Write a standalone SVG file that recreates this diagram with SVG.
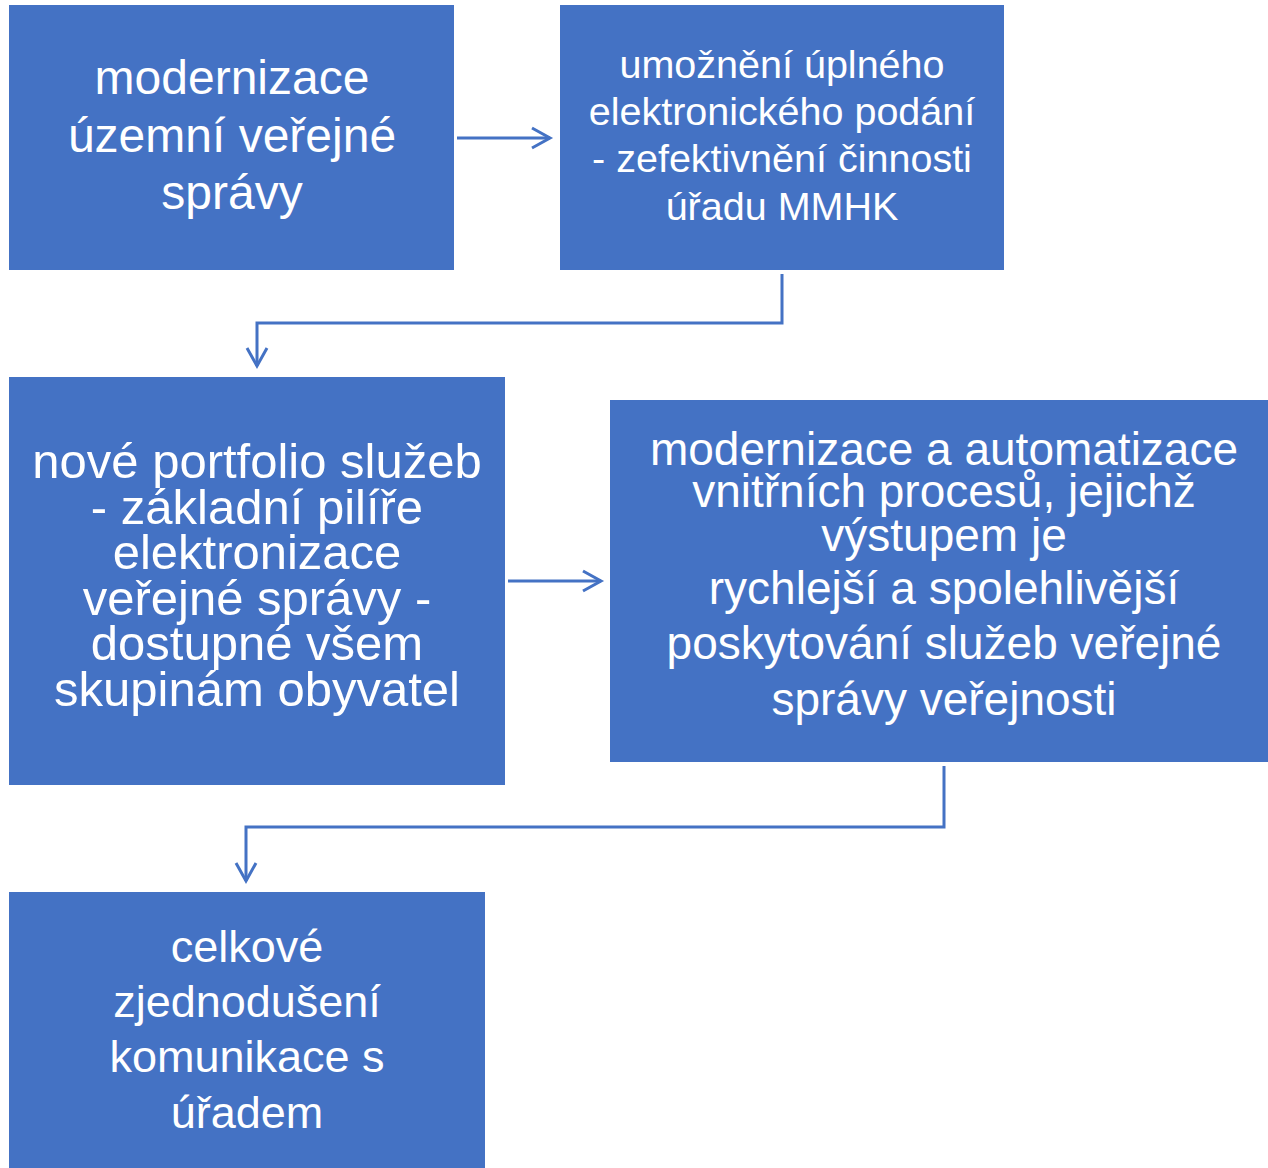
<svg xmlns="http://www.w3.org/2000/svg" width="1268" height="1168" viewBox="0 0 1268 1168">
<style>
.box{fill:#4472C4}
.t{font-family:"Liberation Sans",Arial,sans-serif;fill:#FFFFFF;text-anchor:middle}
.c{fill:none;stroke:#4472C4;stroke-width:3}
</style>
<defs>
<marker id="ah" markerWidth="24" markerHeight="24" refX="20" refY="12" orient="auto" markerUnits="userSpaceOnUse">
<path d="M2,2 L20,12 L2,22" fill="none" stroke="#4472C4" stroke-width="3"/>
</marker>
</defs>
<rect width="1268" height="1168" fill="#FFFFFF"/>
<g id="n1">
<rect class="box" x="9" y="5" width="445" height="265"/>
<text class="t" font-size="48"><tspan x="232" y="94">modernizace</tspan><tspan x="232" y="152">územní veřejné</tspan><tspan x="232" y="209">správy</tspan></text>
</g>
<g id="n2">
<rect class="box" x="560" y="5" width="444" height="265"/>
<text class="t" font-size="39.5"><tspan x="782" y="78">umožnění úplného</tspan><tspan x="782" y="125">elektronického podání</tspan><tspan x="782" y="172">- zefektivnění činnosti</tspan><tspan x="782" y="220">úřadu MMHK</tspan></text>
</g>
<g id="n3">
<rect class="box" x="9" y="377" width="496" height="408"/>
<text class="t" font-size="49"><tspan x="257" y="478">nové portfolio služeb</tspan><tspan x="257" y="524">- základní pilíře</tspan><tspan x="257" y="569">elektronizace</tspan><tspan x="257" y="615">veřejné správy -</tspan><tspan x="257" y="660">dostupné všem</tspan><tspan x="257" y="706">skupinám obyvatel</tspan></text>
</g>
<g id="n4">
<rect class="box" x="610" y="400" width="658" height="362"/>
<text class="t" font-size="46"><tspan x="944" y="465">modernizace a automatizace</tspan><tspan x="944" y="507">vnitřních procesů, jejichž</tspan><tspan x="944" y="551">výstupem je</tspan><tspan x="944" y="604">rychlejší a spolehlivější</tspan><tspan x="944" y="659">poskytování služeb veřejné</tspan><tspan x="944" y="715">správy veřejnosti</tspan></text>
</g>
<g id="n5">
<rect class="box" x="9" y="892" width="476" height="276"/>
<text class="t" font-size="45"><tspan x="247" y="962">celkové</tspan><tspan x="247" y="1017">zjednodušení</tspan><tspan x="247" y="1072">komunikace s</tspan><tspan x="247" y="1128">úřadem</tspan></text>
</g>
<g id="connectors">
<path class="c" d="M457,138 L550,138" marker-end="url(#ah)"/>
<path class="c" d="M782,274 L782,323 L257,323 L257,366" marker-end="url(#ah)"/>
<path class="c" d="M508,581 L601,581" marker-end="url(#ah)"/>
<path class="c" d="M944,766 L944,827 L246,827 L246,881" marker-end="url(#ah)"/>
</g>
</svg>
